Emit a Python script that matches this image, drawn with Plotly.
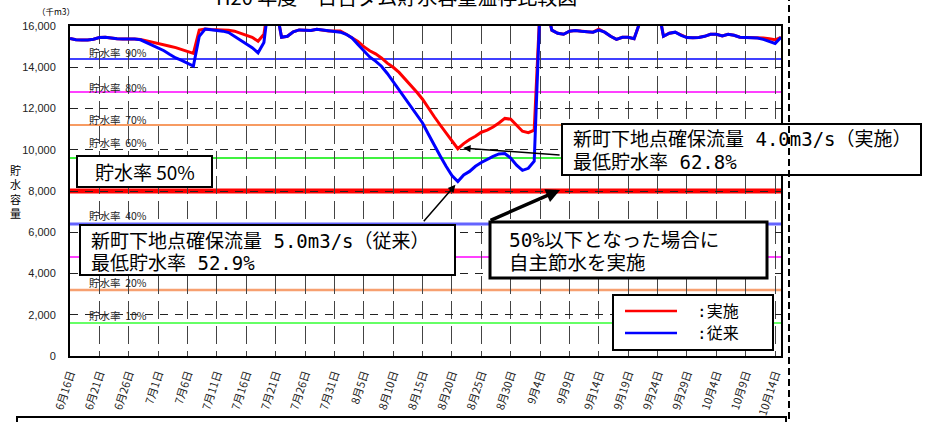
import plotly.graph_objects as go

# ---------------- data ----------------
tick_days = list(range(0, 121, 5))
tick_labels = ["6月16日", "6月21日", "6月26日", "7月1日", "7月6日", "7月11日", "7月16日",
               "7月21日", "7月26日", "7月31日", "8月5日", "8月10日", "8月15日", "8月20日",
               "8月25日", "8月30日", "9月4日", "9月9日", "9月14日", "9月19日", "9月24日",
               "9月29日", "10月4日", "10月9日", "10月14日"]

# 従来 (conventional operation), daily storage 6/16 - 10/15 (千m3)
conventional = [
    15400, 15330, 15320, 15320, 15360, 15440, 15450, 15400, 15380, 15370, 15380, 15370,
    15330, 15200, 15060, 14950, 14800, 14620, 14450, 14330, 14200, 14060, 15500, 15850,
    15820, 15790, 15750, 15680, 15500, 15330, 15160, 14950, 14700, 15200, 17500, 17000,
    15450, 15500, 15720, 15810, 15800, 15780, 15840, 15800, 15750, 15730, 15700, 15600,
    15420, 15100, 14780, 14500, 14300, 14050, 13700, 13300, 12900, 12500, 12080, 11680,
    11300, 10750, 10200, 9700, 9200, 8750, 8460, 8780, 8950, 9200, 9380, 9550,
    9680, 9800, 9820, 9600, 9250, 9000, 9100, 9450, 17000, 17000, 15800, 15650,
    15600, 15750, 15780, 15740, 15720, 15700, 15800, 15700, 15500, 15350, 15450, 15450,
    15380, 16200, 17500, 17500, 17000, 15500, 15650, 15700, 15550, 15440, 15430, 15440,
    15500, 15600, 15600, 15520, 15600, 15550, 15460, 15450, 15450, 15420, 15350, 15250,
    15150, 15450]

# 実施 (with voluntary water saving)
implemented = [
    15400, 15330, 15320, 15320, 15360, 15440, 15450, 15400, 15380, 15370, 15380, 15370,
    15350, 15290, 15230, 15170, 15100, 15020, 14950, 14850, 14750, 14670, 15800, 15850,
    15830, 15820, 15800, 15790, 15750, 15650, 15550, 15450, 15260, 15600, 17500, 17000,
    15450, 15500, 15720, 15810, 15800, 15780, 15840, 15800, 15760, 15760, 15760, 15600,
    15420, 15250, 15000, 14800, 14650, 14450, 14200, 14000, 13750, 13450, 13100, 12800,
    12450, 12000, 11600, 11200, 10800, 10400, 10050, 10300, 10500, 10650, 10850, 10950,
    11100, 11300, 11520, 11480, 11200, 10900, 10830, 10950, 17000, 17000, 15800, 15650,
    15600, 15750, 15780, 15740, 15720, 15700, 15850, 15700, 15500, 15350, 15450, 15450,
    15380, 16200, 17500, 17500, 17000, 15500, 15650, 15700, 15550, 15440, 15430, 15440,
    15500, 15600, 15600, 15520, 15600, 15550, 15460, 15450, 15450, 15440, 15420, 15380,
    15330, 15450]

capacity = 16000
pct_levels = [90, 80, 70, 60, 50, 40, 30, 20, 10]
y_ticks = list(range(0, 16001, 2000))

# ---------------- styles ----------------
pct_colors = {90: "#0000ff", 80: "#ff00ff", 70: "#f57a2e", 60: "#00ee00", 50: "#ff0000",
              40: "#6464ff", 30: "#ff00ff", 20: "#f7a070", 10: "#66ff66"}
pct_widths = {90: 1.3, 80: 1.3, 70: 1.3, 60: 1.3, 50: 5, 40: 2.8, 30: 1.3, 20: 2.4, 10: 2}
label_py = {90: 53, 80: 87, 70: 119, 60: 142, 40: 215, 20: 282, 10: 315}

L, R, T, B = 70, 781, 26, 356
W, H = 927, 422


def px(x):
    return (x - L) / (R - L)


def py(y):
    return (B - y) / (B - T)


JP = "Noto Sans CJK JP"
MONO_JP = "DejaVu Sans Mono, Noto Sans CJK JP"

days = list(range(len(conventional)))

fig = go.Figure()
fig.add_trace(go.Scatter(x=days, y=implemented, mode="lines", name="実施",
                         line=dict(color="#ff0000", width=3), showlegend=False))
fig.add_trace(go.Scatter(x=days, y=conventional, mode="lines", name="従来",
                         line=dict(color="#0000ff", width=3), showlegend=False))

shapes = []
annotations = []

# percentage lines
for p in pct_levels:
    shapes.append(dict(type="line", xref="paper", yref="y", x0=0, x1=1,
                       y0=p * capacity / 100, y1=p * capacity / 100, layer="between",
                       line=dict(color=pct_colors[p], width=pct_widths[p])))
    if p in label_py:
        annotations.append(dict(xref="paper", yref="paper", x=px(87), y=py(label_py[p]),
                                xanchor="left", yanchor="middle", showarrow=False,
                                text=f"貯水率\u00a0\u00a0{p}%",
                                font=dict(family=JP, size=10.5, color="#222")))


def box(x0, y0, x1, y1, width=2):
    shapes.append(dict(type="rect", xref="paper", yref="paper",
                       x0=px(x0), x1=px(x1), y0=py(y1), y1=py(y0), layer="above",
                       fillcolor="white", line=dict(color="black", width=width)))


def text(x, y, s, size, anchor="left", family=MONO_JP):
    annotations.append(dict(xref="paper", yref="paper", x=px(x), y=py(y), text=s,
                            xanchor=anchor, yanchor="middle", showarrow=False,
                            font=dict(family=family, size=size, color="black")))


# boxes
box(77, 156, 212, 187, 2)
text(145, 171, "貯水率 50%", 19, "center", JP)

box(80, 225, 455, 275, 2)
text(89, 241, "新町下地点確保流量 5.0m3/s（従来）", 19)
text(89, 263, "最低貯水率 52.9%", 19)

box(562, 124, 921, 175, 2)
text(571, 139, "新町下地点確保流量 4.0m3/s（実施）", 19)
text(571, 162, "最低貯水率 62.8%", 19)

box(490, 222, 767, 278, 3)
text(507, 240, "50%以下となった場合に", 19.5)
text(507, 263, "自主節水を実施", 19.5)

# legend
box(613, 295, 773, 350, 2)
shapes.append(dict(type="line", xref="paper", yref="paper", x0=px(625), x1=px(677),
                   y0=py(311), y1=py(311), layer="above",
                   line=dict(color="#ff0000", width=2.5)))
shapes.append(dict(type="line", xref="paper", yref="paper", x0=px(625), x1=px(677),
                   y0=py(333), y1=py(333), layer="above",
                   line=dict(color="#0000ff", width=2.5)))
text(695, 311, ":実施", 16)
text(695, 333, ":従来", 16)

# bottom box and dashed separator
box(17, 417, 786, 445, 2)
shapes.append(dict(type="line", xref="paper", yref="paper", x0=px(789), x1=px(789),
                   y0=py(430), y1=py(-5), layer="above",
                   line=dict(color="black", width=2, dash="7px,4px")))

# arrows
annotations.append(dict(x=66.9, y=10080, xref="x", yref="y", ax=98, ay=7,
                        showarrow=True, arrowhead=2, arrowsize=1, arrowwidth=1.5,
                        arrowcolor="black", text=""))
annotations.append(dict(x=65.6, y=8300, xref="x", yref="y", ax=-33, ay=38,
                        showarrow=True, arrowhead=2, arrowsize=1, arrowwidth=1.5,
                        arrowcolor="black", text=""))
annotations.append(dict(x=83.4, y=8050, xref="x", yref="y", ax=-71, ay=31,
                        showarrow=True, arrowhead=2, arrowsize=0.8, arrowwidth=3.5,
                        arrowcolor="black", text=""))

# title, unit, y title
text(396, -4, "H20 年度\u3000日吉ダム貯水容量温存比較図", 20, "center", JP)
text(56, 11, "（千m3）", 8.5, "center", JP)
text(15, 191, "貯<br>水<br>容<br>量", 11, "center", JP)

fig.update_layout(
    width=W, height=H,
    margin=dict(l=L, r=W - R, t=T, b=H - B, autoexpand=False),
    paper_bgcolor="white", plot_bgcolor="white",
    shapes=shapes, annotations=annotations, showlegend=False,
    xaxis=dict(range=[0, len(conventional) - 1], tickmode="array", tickvals=tick_days,
               ticktext=tick_labels, tickangle=-72, showgrid=True, gridcolor="#444",
               gridwidth=1, griddash="18px,7px", zeroline=False, showline=True,
               linecolor="black", linewidth=2, mirror=True, ticks="",
               ticklabelstandoff=5, automargin=False,
               tickfont=dict(family=JP, size=11, color="#222")),
    yaxis=dict(range=[0, 16000], tickmode="array", tickvals=y_ticks, tickformat=",d",
               showgrid=True, gridcolor="#222", gridwidth=1, griddash="8px,7px",
               zeroline=False, showline=True, linecolor="black", linewidth=2,
               mirror=True, ticks="", ticklabelstandoff=10, automargin=False,
               tickfont=dict(family="Liberation Sans", size=11, color="#222")),
)

fig.write_html("out.html", post_script="document.body.style.margin='0';",
               config={"displayModeBar": False})
